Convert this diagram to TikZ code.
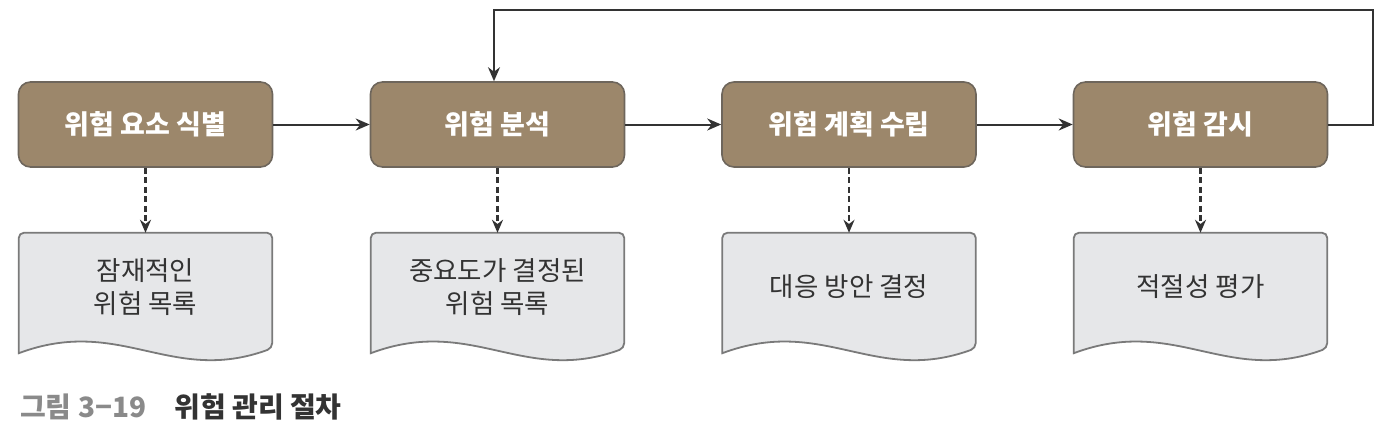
\documentclass[tikz,border=0pt]{standalone}
\usepackage{fontspec}
\setmainfont{Noto Sans CJK KR}
\usetikzlibrary{arrows.meta,calc}
\definecolor{boxfill}{HTML}{9C876B}
\definecolor{boxline}{HTML}{6E665C}
\definecolor{docfill}{HTML}{E6E7E9}
\definecolor{docline}{HTML}{7A7A7A}
\definecolor{linec}{HTML}{333333}
\definecolor{txtc}{HTML}{333333}
\definecolor{capgray}{HTML}{8A8A8A}
\tikzset{
  stepbox/.style={draw=boxline, fill=boxfill, line width=1.6pt, rounded corners=12pt,
    minimum width=254pt, minimum height=85pt, inner sep=0pt,
    text=white, font=\fontsize{27}{30}\selectfont\bfseries},
  docbox/.style={minimum width=253pt, minimum height=108pt, inner sep=0pt,
    text=txtc, align=center, font=\fontsize{26.5}{33}\selectfont},
  docline/.style={draw=docline, fill=docfill, line width=1.8pt},
  flow/.style={draw=linec, line width=2pt, -{Stealth[length=14pt,width=12pt]}},
  dflow/.style={draw=linec, line width=2.2pt, dash pattern=on 6pt off 3.5pt, -{Stealth[length=13pt,width=11pt]}},
}
\newcommand\docshape[1]{%
  \path[docline] let \p1=(#1.south west), \p2=(#1.north east), \n1={\x2-\x1} in
    [rounded corners=5pt] (\x1,\y1-12pt) -- (\x1,\y2) -- (\x2,\y2) -- (\x2,\y1-7pt)
    [sharp corners] .. controls (\x2-0.4*\n1,\y1-44pt) and (\x1+0.4*\n1,\y1+26pt) .. (\x1,\y1-12pt) -- cycle;
}
\begin{document}
\begin{tikzpicture}[x=1pt,y=-1pt]
\useasboundingbox (0,0) rectangle (1388,434);
% top boxes
\node[stepbox] (b1) at (145.5,124.5) {위험 요소 식별};
\node[stepbox] (b2) at (497.5,124.5) {위험 분석};
\node[stepbox] (b3) at (849,124.5) {위험 계획 수립};
\node[stepbox] (b4) at (1200.5,124.5) {위험 감시};
% documents
\node[docbox] (d1) at (145.5,287) {};
\node[docbox] (d2) at (497.5,287) {};
\node[docbox] (d3) at (849,287) {};
\node[docbox] (d4) at (1200.5,287) {};
\docshape{d1}\docshape{d2}\docshape{d3}\docshape{d4}
\node[docbox] at (d1) {잠재적인\\위험 목록};
\node[docbox] at (d2) {중요도가 결정된\\위험 목록};
\node[docbox] at (d3) {대응 방안 결정};
\node[docbox] at (d4) {적절성 평가};
% flow arrows
\draw[flow] (b1) -- (b2);
\draw[flow] (b2) -- (b3);
\draw[flow] (b3) -- (b4);
\coordinate (fbR) at (1373,10);
\coordinate (fbL) at (494,10);
\draw[flow] (b4.east) -| (fbR) -- (fbL) -- (fbL |- b2.north);
% dashed arrows
\draw[dflow] (b1.south) -- (d1.north);
\draw[dflow] (b2.south) -- (d2.north);
\draw[dflow] (b3.south) -- (d3.north);
\draw[dflow] (b4.south) -- (d4.north);
% caption
\node[anchor=west, inner sep=0pt, font=\fontsize{28}{30}\selectfont\bfseries] (cap) at (20,407)
  {\textcolor{capgray}{그림 3−19}\hspace{28pt}\textcolor{txtc}{위험 관리 절차}};
\end{tikzpicture}
\end{document}
